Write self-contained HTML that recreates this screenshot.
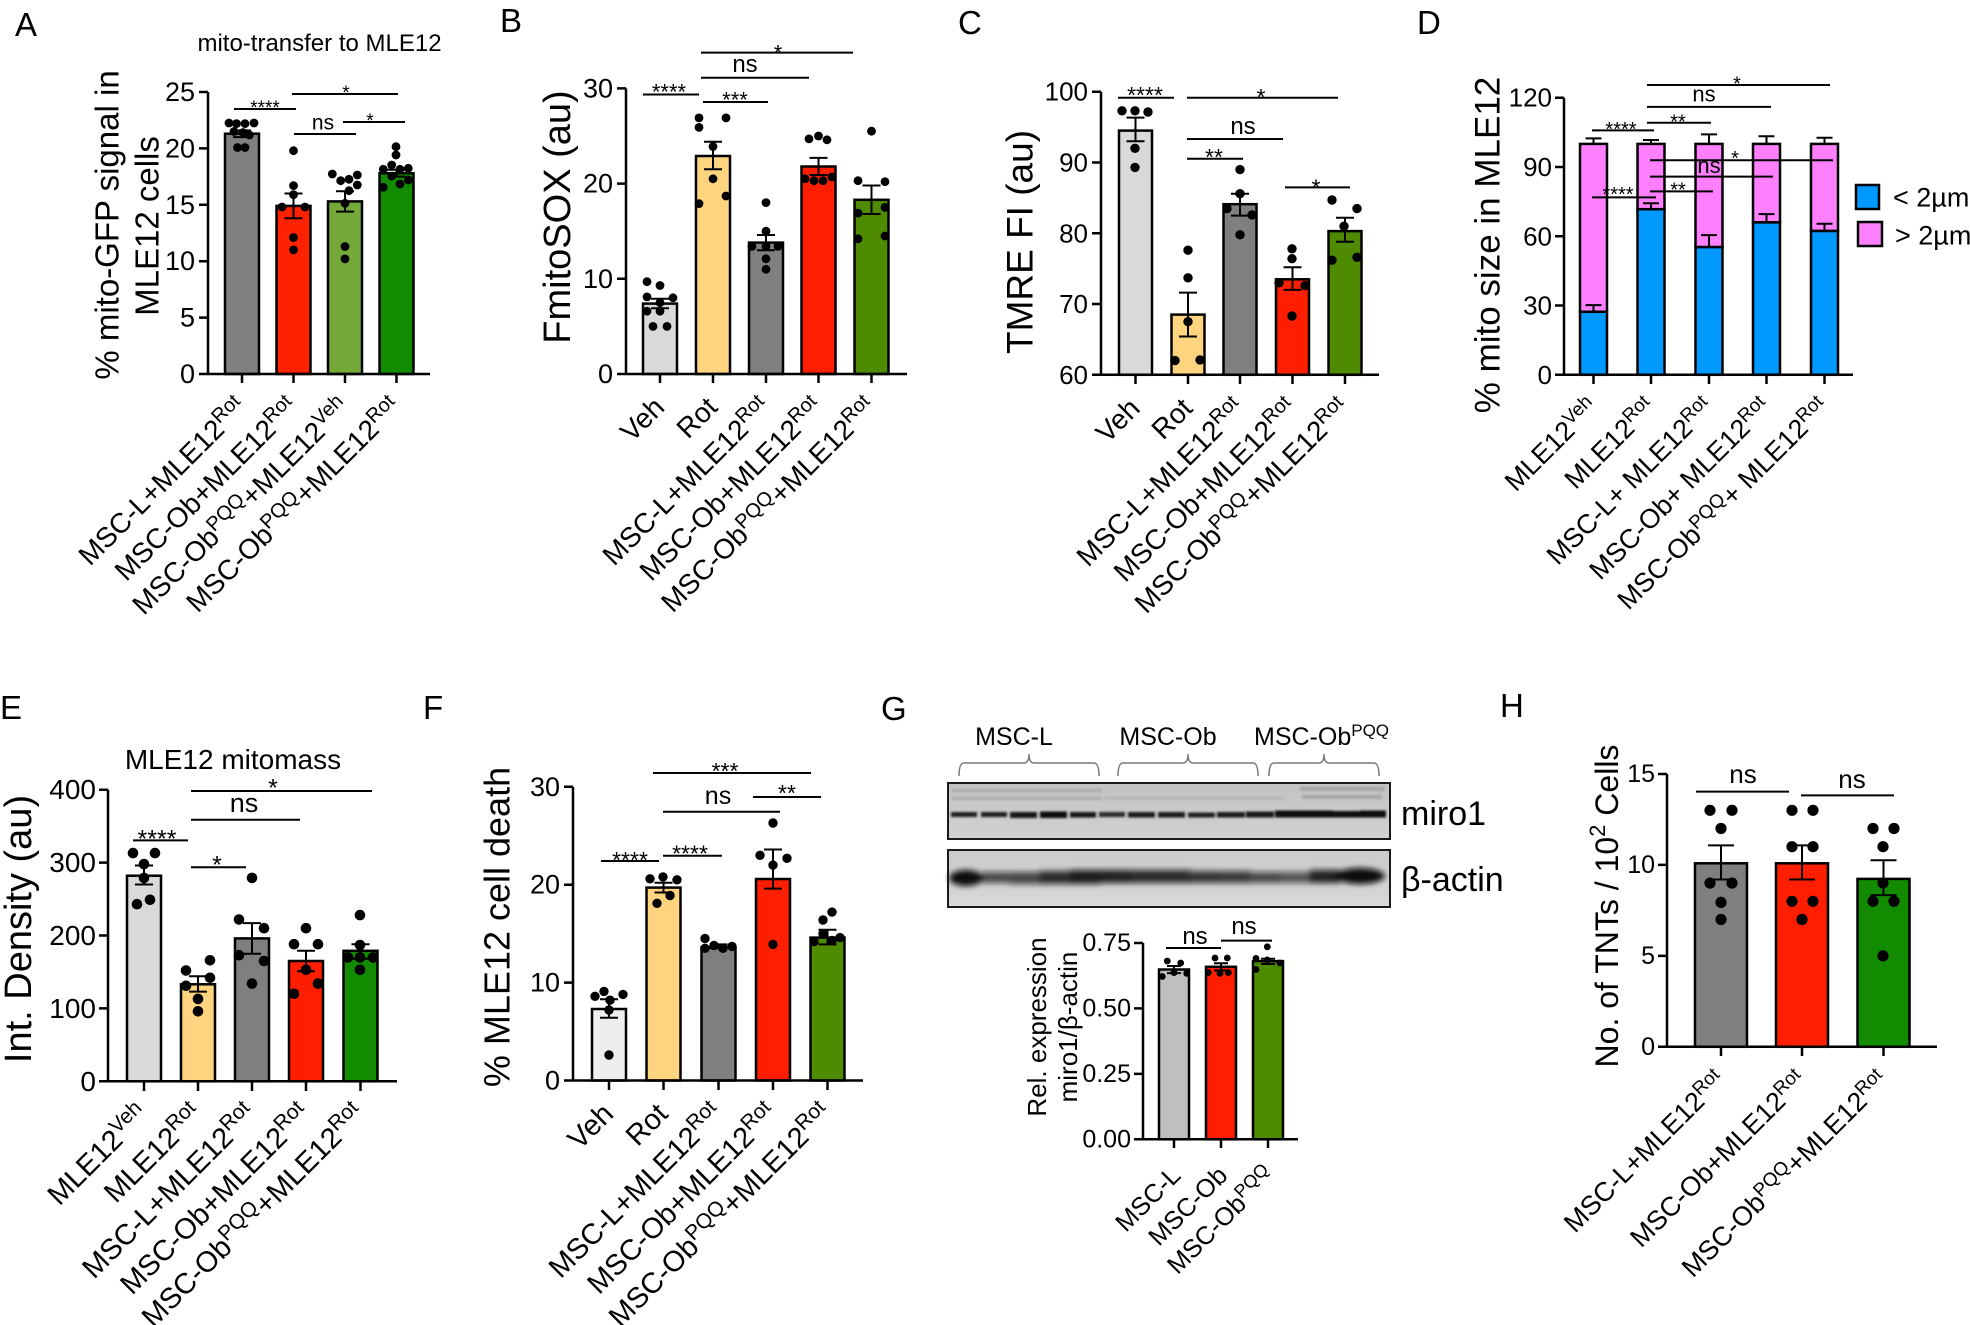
<!DOCTYPE html>
<html><head><meta charset="utf-8"><style>
html,body{margin:0;padding:0;background:#fff;}
svg{display:block;}
text{font-family:"Liberation Sans",Arial,sans-serif;fill:#000;}
.ax{stroke:#000;stroke-width:2.5;fill:none;}
.bar{stroke:#000;stroke-width:2.5;}
.eb{stroke:#000;stroke-width:2;fill:none;}
.sg{stroke:#000;stroke-width:2;fill:none;}
.tl{text-anchor:end;dominant-baseline:central;}
.mid{text-anchor:middle;}
.yl{text-anchor:middle;dominant-baseline:central;}
.xl{text-anchor:end;}
</style></head><body>
<svg width="1970" height="1325" viewBox="0 0 1970 1325" xmlns="http://www.w3.org/2000/svg">
<defs>
<filter id="b1" x="-10%" y="-200%" width="120%" height="500%"><feGaussianBlur stdDeviation="1.1"/></filter>
<filter id="b3" x="-10%" y="-200%" width="120%" height="500%"><feGaussianBlur stdDeviation="3"/></filter>
<linearGradient id="gb1" x1="0" y1="0" x2="0" y2="1"><stop offset="0" stop-color="#c2c2c2"/><stop offset="1" stop-color="#d2d2d2"/></linearGradient>
<linearGradient id="gb2" x1="0" y1="0" x2="0" y2="1"><stop offset="0" stop-color="#cbcbcb"/><stop offset="1" stop-color="#d8d8d8"/></linearGradient>
</defs>

<!-- ================= PANEL A ================= -->
<text x="15" y="36" font-size="33">A</text>
<text x="319.5" y="51" font-size="24" class="mid">mito-transfer to MLE12</text>
<text class="yl" font-size="33" transform="translate(107,225) rotate(-90)">% mito-GFP signal in</text>
<text class="yl" font-size="33" transform="translate(147,226) rotate(-90)">MLE12 cells</text>
<rect class="bar" x="225" y="133.7" width="34" height="240.3" fill="#808080"/>
<rect class="bar" x="276.5" y="205.9" width="34" height="168.1" fill="#ff2200"/>
<rect class="bar" x="328" y="201.4" width="34" height="172.6" fill="#74a93a"/>
<rect class="bar" x="379.5" y="173.2" width="34" height="200.8" fill="#128b00"/>
<path class="ax" d="M208,92V374H430 M199,374H208 M199,317.6H208 M199,261.2H208 M199,204.8H208 M199,148.4H208 M199,92H208 M242,374V383 M293.5,374V383 M345,374V383 M396.5,374V383"/>
<g font-size="27">
<text class="tl" x="195" y="374">0</text><text class="tl" x="195" y="317.6">5</text><text class="tl" x="195" y="261.2">10</text><text class="tl" x="195" y="204.8">15</text><text class="tl" x="195" y="148.4">20</text><text class="tl" x="195" y="92">25</text>
</g>
<path class="eb" d="M242,137.1V130.4M233,137.1H251M233,130.4H251 M293.5,218.3V193.5M284.5,218.3H302.5M284.5,193.5H302.5 M345,211.6V191.3M336,211.6H354M336,191.3H354 M396.5,176.6V169.8M387.5,176.6H405.5M387.5,169.8H405.5"/>
<g fill="#000">
<circle cx="229" cy="123" r="4.4"/><circle cx="236.5" cy="123.6" r="4.4"/><circle cx="245" cy="123.6" r="4.4"/><circle cx="254" cy="123" r="4.4"/><circle cx="234" cy="131.5" r="4.4"/><circle cx="243" cy="132.5" r="4.4"/><circle cx="249.5" cy="135" r="4.4"/><circle cx="237.5" cy="147.5" r="4.4"/><circle cx="245" cy="147.5" r="4.4"/>
<circle cx="293.5" cy="150.7" r="4.4"/><circle cx="293.5" cy="185.6" r="4.4"/><circle cx="293.5" cy="194.6" r="4.4"/><circle cx="282" cy="207" r="4.4"/><circle cx="305" cy="207" r="4.4"/><circle cx="293.5" cy="237.5" r="4.4"/><circle cx="293.5" cy="249.9" r="4.4"/>
<circle cx="332.3" cy="174" r="4.4"/><circle cx="340.7" cy="180.7" r="4.4"/><circle cx="349" cy="179.3" r="4.4"/><circle cx="357.3" cy="175" r="4.4"/><circle cx="357.3" cy="185" r="4.4"/><circle cx="349" cy="190.7" r="4.4"/><circle cx="345" cy="203.3" r="4.4"/><circle cx="345" cy="246.5" r="4.4"/><circle cx="345" cy="258.9" r="4.4"/>
<circle cx="396" cy="146.7" r="4.4"/><circle cx="396" cy="155" r="4.4"/><circle cx="391.7" cy="165" r="4.4"/><circle cx="383.3" cy="169.3" r="4.4"/><circle cx="400" cy="169.3" r="4.4"/><circle cx="408.3" cy="168.3" r="4.4"/><circle cx="383.3" cy="187.3" r="4.4"/><circle cx="400" cy="184" r="4.4"/><circle cx="391.7" cy="176" r="4.4"/><circle cx="408.3" cy="180" r="4.4"/>
</g>
<path class="sg" d="M234,109H296 M292,94H398 M294,134H356 M343,122H405"/>
<text x="265" y="114" font-size="19" class="mid">****</text>
<text x="346" y="99" font-size="19" class="mid">*</text>
<text x="323" y="129.5" font-size="21" class="mid">ns</text>
<text x="370" y="127" font-size="19" class="mid">*</text>
<g font-size="28">
<text class="xl" transform="translate(248,409) rotate(-45)">MSC-L+MLE12<tspan dy="-9.5" font-size="20">Rot</tspan></text>
<text class="xl" transform="translate(299.5,409) rotate(-45)">MSC-Ob+MLE12<tspan dy="-9.5" font-size="20">Rot</tspan></text>
<text class="xl" transform="translate(351,409) rotate(-45)">MSC-Ob<tspan dy="-9.5" font-size="20">PQQ</tspan><tspan dy="9.5">+MLE12</tspan><tspan dy="-9.5" font-size="20">Veh</tspan></text>
<text class="xl" transform="translate(402.5,409) rotate(-45)">MSC-Ob<tspan dy="-9.5" font-size="20">PQQ</tspan><tspan dy="9.5">+MLE12</tspan><tspan dy="-9.5" font-size="20">Rot</tspan></text>
</g>

<!-- ================= PANEL B ================= -->
<text x="500" y="32" font-size="33">B</text>
<text class="yl" font-size="38" transform="translate(558,217) rotate(-90)">FmitoSOX (au)</text>
<rect class="bar" x="643" y="303.6" width="34" height="70.4" fill="#d9d9d9"/>
<rect class="bar" x="696" y="156" width="34" height="218" fill="#ffd47f"/>
<rect class="bar" x="749" y="242.6" width="34" height="131.4" fill="#7f7f7f"/>
<rect class="bar" x="801.5" y="166.5" width="34" height="207.5" fill="#ff1e00"/>
<rect class="bar" x="854.5" y="199.8" width="34" height="174.2" fill="#4e8b00"/>
<path class="ax" d="M626,88.4V374H907 M617,374H626 M617,278.8H626 M617,183.6H626 M617,88.4H626 M660,374V383 M713,374V383 M766,374V383 M818.5,374V383 M871.5,374V383"/>
<g font-size="27">
<text class="tl" x="613" y="374">0</text><text class="tl" x="613" y="278.8">10</text><text class="tl" x="613" y="183.6">20</text><text class="tl" x="613" y="88.4">30</text>
</g>
<path class="eb" d="M660,308.3V298.8M651,308.3H669M651,298.8H669 M713,169.3V141.7M704,169.3H722M704,141.7H722 M766,250.2V235M757,250.2H775M757,235H775 M818.5,175V157.9M809.5,175H827.5M809.5,157.9H827.5 M871.5,214V185.5M862.5,214H880.5M862.5,185.5H880.5"/>
<g fill="#000">
<circle cx="647" cy="281.7" r="4.4"/><circle cx="660" cy="285.5" r="4.4"/><circle cx="647" cy="296.9" r="4.4"/><circle cx="673" cy="297.8" r="4.4"/><circle cx="660" cy="302.6" r="4.4"/><circle cx="647" cy="311.2" r="4.4"/><circle cx="660" cy="311.2" r="4.4"/><circle cx="653" cy="326.4" r="4.4"/><circle cx="667" cy="326.4" r="4.4"/>
<circle cx="699" cy="117.9" r="4.4"/><circle cx="726" cy="117.9" r="4.4"/><circle cx="699" cy="127.4" r="4.4"/><circle cx="713" cy="146.5" r="4.4"/><circle cx="713" cy="178.8" r="4.4"/><circle cx="726" cy="196" r="4.4"/><circle cx="699" cy="203.6" r="4.4"/>
<circle cx="766" cy="202.6" r="4.4"/><circle cx="766" cy="231.2" r="4.4"/><circle cx="752" cy="246.4" r="4.4"/><circle cx="766" cy="246.4" r="4.4"/><circle cx="778" cy="246.4" r="4.4"/><circle cx="766" cy="258.8" r="4.4"/><circle cx="766" cy="269.3" r="4.4"/>
<circle cx="809" cy="138.9" r="4.4"/><circle cx="818.5" cy="136" r="4.4"/><circle cx="827" cy="139.8" r="4.4"/><circle cx="805" cy="178.8" r="4.4"/><circle cx="814" cy="180.7" r="4.4"/><circle cx="823" cy="180.7" r="4.4"/><circle cx="832" cy="176.9" r="4.4"/>
<circle cx="871.5" cy="131.2" r="4.4"/><circle cx="858" cy="180.7" r="4.4"/><circle cx="885" cy="181.7" r="4.4"/><circle cx="858" cy="213.1" r="4.4"/><circle cx="885" cy="207.4" r="4.4"/><circle cx="858" cy="238.8" r="4.4"/><circle cx="885" cy="236" r="4.4"/>
</g>
<path class="sg" d="M643,94.5H699 M703,102H768 M701,77.7H809 M701,52.6H853"/>
<text x="669" y="99.4" font-size="22" class="mid">****</text>
<text x="735" y="107.4" font-size="22" class="mid">***</text>
<text x="745" y="72" font-size="24" class="mid">ns</text>
<text x="778" y="60.7" font-size="22" class="mid">*</text>
<g font-size="28">
<text class="xl" transform="translate(666,409) rotate(-45)">Veh</text>
<text class="xl" transform="translate(719,409) rotate(-45)">Rot</text>
<text class="xl" transform="translate(772,409) rotate(-45)">MSC-L+MLE12<tspan dy="-9.5" font-size="20">Rot</tspan></text>
<text class="xl" transform="translate(824.5,409) rotate(-45)">MSC-Ob+MLE12<tspan dy="-9.5" font-size="20">Rot</tspan></text>
<text class="xl" transform="translate(877.5,409) rotate(-45)">MSC-Ob<tspan dy="-9.5" font-size="20">PQQ</tspan><tspan dy="9.5">+MLE12</tspan><tspan dy="-9.5" font-size="20">Rot</tspan></text>
</g>

<!-- ================= PANEL C ================= -->
<text x="958" y="34" font-size="33">C</text>
<text class="yl" font-size="37" transform="translate(1020,242) rotate(-90)">TMRE FI (au)</text>
<rect class="bar" x="1119" y="130.6" width="33" height="244.2" fill="#d9d9d9"/>
<rect class="bar" x="1171.5" y="314.6" width="33" height="60.2" fill="#ffd47f"/>
<rect class="bar" x="1223.5" y="204.2" width="33" height="170.6" fill="#7f7f7f"/>
<rect class="bar" x="1276" y="279.3" width="33" height="95.5" fill="#ff1e00"/>
<rect class="bar" x="1328.5" y="231.1" width="33" height="143.7" fill="#4e8b00"/>
<path class="ax" d="M1101,91.7V374.8H1379 M1092,374.8H1101 M1092,304H1101 M1092,233.3H1101 M1092,162.5H1101 M1092,91.7H1101 M1135.5,374.8V384 M1188,374.8V384 M1240,374.8V384 M1292.5,374.8V384 M1345,374.8V384"/>
<g font-size="26">
<text class="tl" x="1088" y="374.8">60</text><text class="tl" x="1088" y="304">70</text><text class="tl" x="1088" y="233.3">80</text><text class="tl" x="1088" y="162.5">90</text><text class="tl" x="1088" y="91.7">100</text>
</g>
<path class="eb" d="M1135.5,141.2V117.6M1126.5,141.2H1144.5M1126.5,117.6H1144.5 M1188,336.5V292.6M1179,336.5H1197M1179,292.6H1197 M1240,215.6V193.7M1231,215.6H1249M1231,193.7H1249 M1292.5,289.9V267.3M1283.5,289.9H1301.5M1283.5,267.3H1301.5 M1345,241.8V217.8M1336,241.8H1354M1336,217.8H1354"/>
<g fill="#000">
<circle cx="1122" cy="110.8" r="4.7"/><circle cx="1135" cy="110.8" r="4.7"/><circle cx="1148" cy="112" r="4.7"/><circle cx="1135" cy="148.3" r="4.7"/><circle cx="1135" cy="167.4" r="4.7"/>
<circle cx="1188" cy="250.2" r="4.7"/><circle cx="1188" cy="277.8" r="4.7"/><circle cx="1188" cy="321.7" r="4.7"/><circle cx="1175" cy="360.6" r="4.7"/><circle cx="1200" cy="359.9" r="4.7"/>
<circle cx="1240" cy="169.6" r="4.7"/><circle cx="1240" cy="193.7" r="4.7"/><circle cx="1227" cy="208.6" r="4.7"/><circle cx="1252" cy="214.9" r="4.7"/><circle cx="1240" cy="234.8" r="4.7"/>
<circle cx="1292" cy="248.8" r="4.7"/><circle cx="1292" cy="258.7" r="4.7"/><circle cx="1279" cy="282.8" r="4.7"/><circle cx="1305" cy="285.6" r="4.7"/><circle cx="1292" cy="316" r="4.7"/>
<circle cx="1332" cy="200" r="4.7"/><circle cx="1357" cy="208.6" r="4.7"/><circle cx="1344" cy="226.2" r="4.7"/><circle cx="1332" cy="260.2" r="4.7"/><circle cx="1357" cy="257.3" r="4.7"/>
</g>
<path class="sg" d="M1118,97.7H1174 M1187,97.7H1338 M1187,139H1283 M1187,158.7H1243 M1285,187.4H1350"/>
<text x="1145" y="103.2" font-size="23" class="mid">****</text>
<text x="1261" y="105.2" font-size="23" class="mid">*</text>
<text x="1243" y="133.8" font-size="24" class="mid">ns</text>
<text x="1214" y="165" font-size="23" class="mid">**</text>
<text x="1316" y="195.5" font-size="23" class="mid">*</text>
<g font-size="28">
<text class="xl" transform="translate(1141.5,410) rotate(-45)">Veh</text>
<text class="xl" transform="translate(1194,410) rotate(-45)">Rot</text>
<text class="xl" transform="translate(1246,410) rotate(-45)">MSC-L+MLE12<tspan dy="-9.5" font-size="20">Rot</tspan></text>
<text class="xl" transform="translate(1298.5,410) rotate(-45)">MSC-Ob+MLE12<tspan dy="-9.5" font-size="20">Rot</tspan></text>
<text class="xl" transform="translate(1351,410) rotate(-45)">MSC-Ob<tspan dy="-9.5" font-size="20">PQQ</tspan><tspan dy="9.5">+MLE12</tspan><tspan dy="-9.5" font-size="20">Rot</tspan></text>
</g>

<!-- ================= PANEL D ================= -->
<text x="1417" y="34" font-size="33">D</text>
<text class="yl" font-size="35" transform="translate(1488,245) rotate(-90)">% mito size in MLE12</text>
<g>
<rect class="bar" x="1580" y="143.9" width="27" height="167.9" fill="#ff80ff"/><rect class="bar" x="1580" y="311.8" width="27" height="63" fill="#0099ff"/>
<rect class="bar" x="1637.5" y="143.9" width="27" height="65.3" fill="#ff80ff"/><rect class="bar" x="1637.5" y="209.2" width="27" height="165.6" fill="#0099ff"/>
<rect class="bar" x="1695.5" y="143.9" width="27" height="103.2" fill="#ff80ff"/><rect class="bar" x="1695.5" y="247.1" width="27" height="127.7" fill="#0099ff"/>
<rect class="bar" x="1753" y="143.9" width="27" height="78.5" fill="#ff80ff"/><rect class="bar" x="1753" y="222.4" width="27" height="152.4" fill="#0099ff"/>
<rect class="bar" x="1811" y="143.9" width="27" height="87.1" fill="#ff80ff"/><rect class="bar" x="1811" y="231" width="27" height="143.8" fill="#0099ff"/>
</g>
<path class="ax" d="M1564,97.7V374.8H1853 M1555,374.8H1564 M1555,305.5H1564 M1555,236.3H1564 M1555,167H1564 M1555,97.7H1564 M1593.5,374.8V384 M1651,374.8V384 M1709,374.8V384 M1766.5,374.8V384 M1824.5,374.8V384"/>
<g font-size="26">
<text class="tl" x="1552" y="374.8">0</text><text class="tl" x="1552" y="305.5">30</text><text class="tl" x="1552" y="236.3">60</text><text class="tl" x="1552" y="167">90</text><text class="tl" x="1552" y="97.7">120</text>
</g>
<path class="eb" d="M1593.5,311.8V305.1M1585.5,305.1H1601.5 M1593.5,143.9V138.4M1585.5,138.4H1601.5
M1651,209.2V203.2M1643,203.2H1659 M1651,143.9V140M1643,140H1659
M1709,247.1V235.1M1701,235.1H1717 M1709,143.9V134.4M1701,134.4H1717
M1766.5,222.4V214.1M1758.5,214.1H1774.5 M1766.5,143.9V136.3M1758.5,136.3H1774.5
M1824.5,231V223.8M1816.5,223.8H1832.5 M1824.5,143.9V137.7M1816.5,137.7H1832.5"/>
<path class="sg" d="M1592,130.4H1654 M1647,122.8H1711 M1647,106.9H1771 M1647,85H1830 M1592,197.4H1656 M1650,191.4H1713 M1650,176.6H1773 M1650,160.3H1833"/>
<text x="1621" y="136" font-size="20" class="mid">****</text>
<text x="1678" y="128.5" font-size="20" class="mid">**</text>
<text x="1704" y="101.4" font-size="22" class="mid">ns</text>
<text x="1737" y="90.7" font-size="20" class="mid">*</text>
<text x="1618" y="201" font-size="20" class="mid">****</text>
<text x="1678" y="196.3" font-size="20" class="mid">**</text>
<text x="1709" y="173.2" font-size="22" class="mid">ns</text>
<text x="1735" y="165.2" font-size="20" class="mid">*</text>
<rect x="1856" y="185" width="23" height="24" fill="#0099ff" stroke="#000" stroke-width="2.5"/>
<rect x="1858" y="222" width="24" height="24" fill="#ff80ff" stroke="#000" stroke-width="2.5"/>
<text x="1893" y="206.7" font-size="27">&lt; 2µm</text>
<text x="1895" y="244.7" font-size="27">&gt; 2µm</text>
<g font-size="27">
<text class="xl" transform="translate(1599.5,409) rotate(-45)">MLE12<tspan dy="-9" font-size="19">Veh</tspan></text>
<text class="xl" transform="translate(1657,409) rotate(-45)">MLE12<tspan dy="-9" font-size="19">Rot</tspan></text>
<text class="xl" transform="translate(1715,409) rotate(-45)">MSC-L+ MLE12<tspan dy="-9" font-size="19">Rot</tspan></text>
<text class="xl" transform="translate(1772.5,409) rotate(-45)">MSC-Ob+ MLE12<tspan dy="-9" font-size="19">Rot</tspan></text>
<text class="xl" transform="translate(1830.5,409) rotate(-45)">MSC-Ob<tspan dy="-9" font-size="19">PQQ</tspan><tspan dy="9">+ MLE12</tspan><tspan dy="-9" font-size="19">Rot</tspan></text>
</g>

<!-- ================= PANEL E ================= -->
<text x="0" y="719" font-size="33">E</text>
<text x="233" y="769" font-size="28" class="mid">MLE12 mitomass</text>
<text class="yl" font-size="38" transform="translate(19,929) rotate(-90)">Int. Density (au)</text>
<rect class="bar" x="127" y="875.7" width="34" height="205.6" fill="#d9d9d9"/>
<rect class="bar" x="181" y="984.3" width="34" height="97" fill="#ffd47f"/>
<rect class="bar" x="235" y="938.4" width="34" height="142.9" fill="#7f7f7f"/>
<rect class="bar" x="289" y="961" width="34" height="120.3" fill="#ff1e00"/>
<rect class="bar" x="343.5" y="950.8" width="34" height="130.5" fill="#128b00"/>
<path class="ax" d="M108,789.7V1081.3H397 M99,1081.3H108 M99,1008.4H108 M99,935.5H108 M99,862.6H108 M99,789.7H108 M144,1081.3V1091 M198,1081.3V1091 M252,1081.3V1091 M306,1081.3V1091 M360.5,1081.3V1091"/>
<g font-size="28">
<text class="tl" x="96" y="1081.3">0</text><text class="tl" x="96" y="1008.4">100</text><text class="tl" x="96" y="935.5">200</text><text class="tl" x="96" y="862.6">300</text><text class="tl" x="96" y="789.7">400</text>
</g>
<path class="eb" d="M144,884.5V865.5M135,884.5H153M135,865.5H153 M198,991.6V976.3M189,991.6H207M189,976.3H207 M252,953.7V923.1M243,953.7H261M243,923.1H261 M306,971.2V950.8M297,971.2H315M297,950.8H315 M360.5,958.8V944.3M351.5,958.8H369.5M351.5,944.3H369.5"/>
<g fill="#000">
<circle cx="133" cy="853.1" r="5.3"/><circle cx="155" cy="853.1" r="5.3"/><circle cx="144" cy="864.1" r="5.3"/><circle cx="144" cy="877.9" r="5.3"/><circle cx="137" cy="904.2" r="5.3"/><circle cx="150" cy="899.8" r="5.3"/>
<circle cx="186" cy="970.5" r="5.3"/><circle cx="210" cy="960.3" r="5.3"/><circle cx="186" cy="985.8" r="5.3"/><circle cx="210" cy="977.8" r="5.3"/><circle cx="198" cy="998.9" r="5.3"/><circle cx="198" cy="1011.3" r="5.3"/>
<circle cx="252" cy="877.9" r="5.3"/><circle cx="239" cy="919.5" r="5.3"/><circle cx="264" cy="928.2" r="5.3"/><circle cx="239" cy="955.2" r="5.3"/><circle cx="264" cy="961" r="5.3"/><circle cx="252" cy="983.6" r="5.3"/>
<circle cx="306" cy="928.2" r="5.3"/><circle cx="294" cy="944.2" r="5.3"/><circle cx="318" cy="944.2" r="5.3"/><circle cx="306" cy="969.8" r="5.3"/><circle cx="318" cy="983.6" r="5.3"/><circle cx="294" cy="993.8" r="5.3"/>
<circle cx="360" cy="915.1" r="5.3"/><circle cx="360" cy="945" r="5.3"/><circle cx="348" cy="957.4" r="5.3"/><circle cx="360" cy="957.4" r="5.3"/><circle cx="373" cy="957.4" r="5.3"/><circle cx="360" cy="969.8" r="5.3"/>
</g>
<path class="sg" d="M133,840.4H188 M191,867.3H246 M191,819.7H300 M191,791H372"/>
<text x="157" y="847.6" font-size="25" class="mid">****</text>
<text x="217" y="873.6" font-size="25" class="mid">*</text>
<text x="244" y="812" font-size="27" class="mid">ns</text>
<text x="273" y="796.4" font-size="25" class="mid">*</text>
<g font-size="29">
<text class="xl" transform="translate(150,1116) rotate(-45)">MLE12<tspan dy="-10" font-size="21">Veh</tspan></text>
<text class="xl" transform="translate(204,1116) rotate(-45)">MLE12<tspan dy="-10" font-size="21">Rot</tspan></text>
<text class="xl" transform="translate(258,1116) rotate(-45)">MSC-L+MLE12<tspan dy="-10" font-size="21">Rot</tspan></text>
<text class="xl" transform="translate(312,1116) rotate(-45)">MSC-Ob+MLE12<tspan dy="-10" font-size="21">Rot</tspan></text>
<text class="xl" transform="translate(366.5,1116) rotate(-45)">MSC-Ob<tspan dy="-10" font-size="21">PQQ</tspan><tspan dy="10">+MLE12</tspan><tspan dy="-10" font-size="21">Rot</tspan></text>
</g>

<!-- ================= PANEL F ================= -->
<text x="423" y="719" font-size="33">F</text>
<text class="yl" font-size="36" transform="translate(497,927) rotate(-90)">% MLE12 cell death</text>
<rect class="bar" x="592" y="1009" width="34" height="71.5" fill="#eeeeee"/>
<rect class="bar" x="646.5" y="887.6" width="34" height="192.9" fill="#ffd47f"/>
<rect class="bar" x="701.5" y="947.4" width="34" height="133.1" fill="#7f7f7f"/>
<rect class="bar" x="756" y="879" width="34" height="201.5" fill="#ff1e00"/>
<rect class="bar" x="810.5" y="937.6" width="34" height="142.9" fill="#4e8b00"/>
<path class="ax" d="M573,786.8V1080.5H863 M564,1080.5H573 M564,982.6H573 M564,884.7H573 M564,786.8H573 M609,1080.5V1090 M663.5,1080.5V1090 M718.5,1080.5V1090 M773,1080.5V1090 M827.5,1080.5V1090"/>
<g font-size="27">
<text class="tl" x="560" y="1080.5">0</text><text class="tl" x="560" y="982.6">10</text><text class="tl" x="560" y="884.7">20</text><text class="tl" x="560" y="786.8">30</text>
</g>
<path class="eb" d="M609,1017.8V999.2M600,1017.8H618M600,999.2H618 M663.5,892.5V882.7M654.5,892.5H672.5M654.5,882.7H672.5 M718.5,948.3V944.4M709.5,948.3H727.5M709.5,944.4H727.5 M773,888.6V849.5M764,888.6H782M764,849.5H782 M827.5,944.4V929.7M818.5,944.4H836.5M818.5,929.7H836.5"/>
<g fill="#000">
<circle cx="595" cy="996.3" r="4.7"/><circle cx="604" cy="991.4" r="4.7"/><circle cx="623" cy="994.4" r="4.7"/><circle cx="610" cy="1000.2" r="4.7"/><circle cx="609" cy="1010" r="4.7"/><circle cx="609" cy="1055" r="4.7"/>
<circle cx="650" cy="878.8" r="4.7"/><circle cx="663" cy="876.9" r="4.7"/><circle cx="677" cy="879.8" r="4.7"/><circle cx="670" cy="895.5" r="4.7"/><circle cx="657" cy="903.3" r="4.7"/>
<circle cx="705" cy="938.5" r="4.7"/><circle cx="705" cy="948.3" r="4.7"/><circle cx="714" cy="945.4" r="4.7"/><circle cx="723" cy="948.3" r="4.7"/><circle cx="732" cy="946.4" r="4.7"/>
<circle cx="773" cy="823" r="4.7"/><circle cx="760" cy="855.3" r="4.7"/><circle cx="787" cy="858.3" r="4.7"/><circle cx="773" cy="865.1" r="4.7"/><circle cx="773" cy="944.4" r="4.7"/>
<circle cx="823" cy="920" r="4.7"/><circle cx="832" cy="912.1" r="4.7"/><circle cx="814" cy="941.5" r="4.7"/><circle cx="823" cy="933.7" r="4.7"/><circle cx="832" cy="940.5" r="4.7"/><circle cx="840" cy="937.6" r="4.7"/>
</g>
<path class="sg" d="M601,861H659 M663,855.8H722 M663,811.8H780 M753,797H821 M653,773H811"/>
<text x="630" y="868" font-size="23" class="mid">****</text>
<text x="690" y="861.5" font-size="23" class="mid">****</text>
<text x="718" y="804.2" font-size="25" class="mid">ns</text>
<text x="787" y="801" font-size="23" class="mid">**</text>
<text x="725" y="779" font-size="23" class="mid">***</text>
<g font-size="29">
<text class="xl" transform="translate(615,1115.5) rotate(-45)">Veh</text>
<text class="xl" transform="translate(669.5,1115.5) rotate(-45)">Rot</text>
<text class="xl" transform="translate(724.5,1115.5) rotate(-45)">MSC-L+MLE12<tspan dy="-10" font-size="21">Rot</tspan></text>
<text class="xl" transform="translate(779,1115.5) rotate(-45)">MSC-Ob+MLE12<tspan dy="-10" font-size="21">Rot</tspan></text>
<text class="xl" transform="translate(833.5,1115.5) rotate(-45)">MSC-Ob<tspan dy="-10" font-size="21">PQQ</tspan><tspan dy="10">+MLE12</tspan><tspan dy="-10" font-size="21">Rot</tspan></text>
</g>

<!-- ================= PANEL G ================= -->
<text x="881" y="720" font-size="33">G</text>
<text x="1014" y="745" font-size="25" class="mid">MSC-L</text>
<text x="1168" y="745" font-size="25" class="mid">MSC-Ob</text>
<text x="1254" y="745" font-size="25">MSC-Ob<tspan dy="-9" font-size="17">PQQ</tspan></text>
<path d="M959,776Q959,763 964,763H1024Q1029,763 1029,754Q1029,763 1034,763H1094Q1099,763 1099,776 M1118,776Q1118,763 1123,763H1183Q1188,763 1188,754Q1188,763 1193,763H1253Q1258,763 1258,776 M1269,776Q1269,763 1274,763H1319Q1324,763 1324,754Q1324,763 1329,763H1374Q1379,763 1379,776" fill="none" stroke="#7a7a7a" stroke-width="1.5"/>
<!-- miro1 blot -->
<rect x="948" y="783" width="442" height="56" fill="url(#gb1)"/>
<g filter="url(#b1)">
<g fill="#8c8c8c" opacity="0.45">
<rect x="952" y="789" width="150" height="3"/><rect x="952" y="797" width="150" height="3"/>
<rect x="1105" y="797" width="180" height="2.5" opacity="0.7"/>
</g>
<g fill="#8a8a8a" opacity="0.55"><rect x="1300" y="787" width="85" height="4"/><rect x="1302" y="795" width="80" height="4"/></g>
<g fill="#0e0e0e">
<rect x="951" y="812" width="26" height="5" opacity="0.9"/><rect x="981" y="812" width="26" height="5" opacity="0.9"/><rect x="1010" y="812" width="27" height="6" opacity="0.95"/><rect x="1040" y="811.5" width="27" height="6.5" opacity="1"/><rect x="1070" y="812" width="26" height="5.5" opacity="0.95"/>
<rect x="1099" y="812" width="26" height="5" opacity="0.85"/><rect x="1128" y="812" width="27" height="5.5" opacity="0.92"/><rect x="1158" y="812" width="27" height="5.5" opacity="0.92"/><rect x="1188" y="812.5" width="27" height="5" opacity="0.9"/><rect x="1217" y="812" width="28" height="5.5" opacity="0.92"/>
<rect x="1246" y="811.5" width="28" height="6" opacity="0.95"/><rect x="1275" y="810.5" width="30" height="7" opacity="1"/><rect x="1305" y="810.5" width="28" height="7" opacity="1"/><rect x="1333" y="811" width="28" height="6.5" opacity="1"/><rect x="1360" y="810.5" width="26" height="7" opacity="1"/>
</g>
</g>
<rect x="948" y="783" width="442" height="56" fill="none" stroke="#1a1a1a" stroke-width="2"/>
<!-- actin blot -->
<rect x="948" y="850" width="442" height="57" fill="url(#gb2)"/>
<g filter="url(#b3)" fill="#0d0d0d">
<ellipse cx="966" cy="878" rx="17" ry="8" opacity="1"/>
<rect x="982" y="872" width="28" height="11" opacity="0.7"/><rect x="1010" y="872" width="30" height="12" opacity="0.72"/><rect x="1040" y="871" width="30" height="13" opacity="0.85"/><rect x="1070" y="870" width="30" height="14" opacity="0.92"/>
<rect x="1100" y="870" width="30" height="13" opacity="0.9"/><rect x="1130" y="870" width="30" height="13" opacity="0.85"/><rect x="1160" y="870" width="30" height="13" opacity="0.85"/><rect x="1190" y="871" width="30" height="12" opacity="0.8"/><rect x="1220" y="871" width="30" height="12" opacity="0.78"/>
<rect x="1250" y="872" width="30" height="11" opacity="0.7"/><rect x="1280" y="872" width="30" height="11" opacity="0.65"/><rect x="1310" y="870" width="30" height="13" opacity="0.9"/><ellipse cx="1360" cy="876" rx="25" ry="8" opacity="1"/>
</g>
<rect x="948" y="850" width="442" height="57" fill="none" stroke="#1a1a1a" stroke-width="2"/>
<text x="1401" y="825" font-size="34">miro1</text>
<text x="1401" y="891" font-size="34">β-actin</text>
<!-- G bar chart -->
<text class="yl" font-size="26" transform="translate(1037,1027) rotate(-90)">Rel. expression</text>
<text class="yl" font-size="26" transform="translate(1068,1027) rotate(-90)">miro1/β-actin</text>
<rect class="bar" x="1159" y="969.5" width="30" height="169.8" fill="#bfbfbf"/>
<rect class="bar" x="1206" y="966.8" width="30" height="172.5" fill="#ff1e00"/>
<rect class="bar" x="1253" y="961.1" width="30" height="178.2" fill="#4e8b00"/>
<path class="ax" d="M1143,943V1139.3H1298 M1134,1139.3H1143 M1134,1073.9H1143 M1134,1008.4H1143 M1134,943H1143 M1174,1139.3V1148 M1221,1139.3V1148 M1268,1139.3V1148"/>
<g font-size="25">
<text class="tl" x="1131" y="1139.3">0.00</text><text class="tl" x="1131" y="1073.9">0.25</text><text class="tl" x="1131" y="1008.4">0.50</text><text class="tl" x="1131" y="943">0.75</text>
</g>
<path class="eb" d="M1174,973.1V966M1167,973.1H1181M1167,966H1181 M1221,970.5V963.2M1214,970.5H1228M1214,963.2H1228 M1268,964V958.7M1261,964H1275M1261,958.7H1275"/>
<g fill="#000">
<circle cx="1167.3" cy="961" r="3.4"/><circle cx="1180.7" cy="963" r="3.4"/><circle cx="1162.3" cy="976.5" r="3.4"/><circle cx="1174" cy="972.6" r="3.4"/><circle cx="1186.7" cy="973.4" r="3.4"/>
<circle cx="1215" cy="958" r="3.4"/><circle cx="1227.3" cy="958" r="3.4"/><circle cx="1208.3" cy="972.6" r="3.4"/><circle cx="1220" cy="973.4" r="3.4"/><circle cx="1228.3" cy="972.6" r="3.4"/>
<circle cx="1267.3" cy="946.8" r="3.4"/><circle cx="1256" cy="958.4" r="3.4"/><circle cx="1267.3" cy="959.9" r="3.4"/><circle cx="1280" cy="963" r="3.4"/><circle cx="1256" cy="969.5" r="3.4"/>
</g>
<path class="sg" d="M1166,948H1221 M1221,940.6H1272"/>
<text x="1195" y="944" font-size="24" class="mid">ns</text>
<text x="1244" y="934" font-size="24" class="mid">ns</text>
<g font-size="25.5">
<text class="xl" transform="translate(1182,1177) rotate(-45)">MSC-L</text>
<text class="xl" transform="translate(1229,1177) rotate(-45)">MSC-Ob</text>
<text class="xl" transform="translate(1276,1177) rotate(-45)">MSC-Ob<tspan dy="-9" font-size="18">PQQ</tspan></text>
</g>

<!-- ================= PANEL H ================= -->
<text x="1500" y="717" font-size="33">H</text>
<text class="yl" font-size="32" transform="translate(1607,906) rotate(-90)">No. of TNTs / 10<tspan dy="-10" font-size="22">2</tspan><tspan dy="10"> Cells</tspan></text>
<rect class="bar" x="1695" y="863.3" width="52" height="183.5" fill="#7f7f7f"/>
<rect class="bar" x="1776" y="863.3" width="52" height="183.5" fill="#ff1e00"/>
<rect class="bar" x="1857.5" y="878.9" width="52" height="167.9" fill="#128b00"/>
<path class="ax" d="M1667,774V1046.8H1937 M1658,1046.8H1667 M1658,955.9H1667 M1658,864.9H1667 M1658,774H1667 M1721,1046.8V1056 M1802,1046.8V1056 M1883.5,1046.8V1056"/>
<g font-size="25">
<text class="tl" x="1655" y="1046.8">0</text><text class="tl" x="1655" y="955.9">5</text><text class="tl" x="1655" y="864.9">10</text><text class="tl" x="1655" y="774">15</text>
</g>
<path class="eb" d="M1721,879.5V845.4M1708,879.5H1734M1708,845.4H1734 M1802,879.5V845.4M1789,879.5H1815M1789,845.4H1815 M1883.5,895.1V860.3M1870.5,895.1H1896.5M1870.5,860.3H1896.5"/>
<g fill="#000">
<circle cx="1710" cy="810.3" r="5.6"/><circle cx="1732" cy="810.3" r="5.6"/><circle cx="1721" cy="828.5" r="5.6"/><circle cx="1710" cy="883.1" r="5.6"/><circle cx="1732" cy="883.1" r="5.6"/><circle cx="1721" cy="902.4" r="5.6"/><circle cx="1721" cy="919.5" r="5.6"/>
<circle cx="1792" cy="810.3" r="5.6"/><circle cx="1813" cy="810.3" r="5.6"/><circle cx="1792" cy="846.7" r="5.6"/><circle cx="1813" cy="846.7" r="5.6"/><circle cx="1792" cy="901.3" r="5.6"/><circle cx="1813" cy="901.3" r="5.6"/><circle cx="1802" cy="919.5" r="5.6"/>
<circle cx="1873" cy="828.5" r="5.6"/><circle cx="1894" cy="828.5" r="5.6"/><circle cx="1883" cy="846.7" r="5.6"/><circle cx="1883" cy="883.1" r="5.6"/><circle cx="1873" cy="901.3" r="5.6"/><circle cx="1894" cy="901.3" r="5.6"/><circle cx="1883" cy="955.9" r="5.6"/>
</g>
<path class="sg" d="M1696,791.6H1789 M1801,795.4H1894"/>
<text x="1743" y="782.8" font-size="26" class="mid">ns</text>
<text x="1852" y="787.8" font-size="26" class="mid">ns</text>
<g font-size="27">
<text class="xl" transform="translate(1727,1082) rotate(-45)">MSC-L+MLE12<tspan dy="-9" font-size="19">Rot</tspan></text>
<text class="xl" transform="translate(1808,1082) rotate(-45)">MSC-Ob+MLE12<tspan dy="-9" font-size="19">Rot</tspan></text>
<text class="xl" transform="translate(1889.5,1082) rotate(-45)">MSC-Ob<tspan dy="-9" font-size="19">PQQ</tspan><tspan dy="9">+MLE12</tspan><tspan dy="-9" font-size="19">Rot</tspan></text>
</g>
</svg>
</body></html>
